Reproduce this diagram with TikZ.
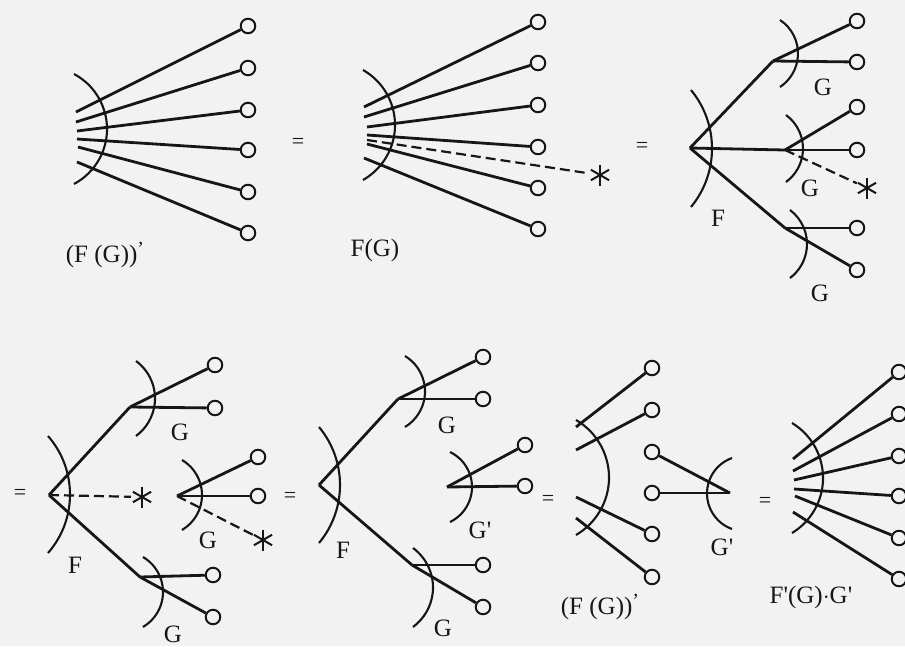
\documentclass[tikz,border=0pt]{standalone}
\usepackage{fontspec}
\setmainfont{Liberation Serif}
\definecolor{bg}{RGB}{242,242,242}
\definecolor{ink}{RGB}{22,22,22}
\newcommand\rarc[4]{%
  \pgfmathsetmacro\myrr{(#3*#3+#4*#4)/(2*#4)}%
  \pgfmathsetmacro\myth{asin(#3/\myrr)}%
  \draw[arcline] (#1,#2-#3) arc[start angle=-\myth, end angle=\myth, radius=\myrr];}
\newcommand\larc[4]{%
  \pgfmathsetmacro\myrr{(#3*#3+#4*#4)/(2*#4)}%
  \pgfmathsetmacro\myth{asin(#3/\myrr)}%
  \draw[arcline] (#1,#2-#3) arc[start angle=180+\myth, end angle=180-\myth, radius=\myrr];}
\newcommand\prm{\raisebox{0.28em}{\fontsize{20}{20}\selectfont ’}}
\newcommand\apo{\textquotesingle}
\begin{document}
\begin{tikzpicture}[x=1pt,y=-1pt,
  leaf/.style={circle,draw=ink,fill=bg,line width=2pt,minimum size=14.5pt,inner sep=0pt},
  branch/.style={draw=ink,line width=2.8pt},
  arcline/.style={draw=ink,line width=2.1pt},
  dashline/.style={draw=ink,line width=2.2pt,dash pattern=on 10pt off 5pt},
  lbl/.style={font=\fontsize{25}{28}\selectfont,text=ink,inner sep=0pt},
  eq/.style={font=\fontsize{22}{24}\selectfont,text=ink,inner sep=0pt},
  ast/.style={circle,minimum size=22pt,inner sep=0pt,
    path picture={\foreach \a in {90,30,-30}{\draw[ink,line width=2pt]
      ([shift={(\a:10.5pt)}]path picture bounding box.center) --
      ([shift={(\a+180:10.5pt)}]path picture bounding box.center);}}}
]
\fill[bg] (0,0) rectangle (905,646);
\useasboundingbox (0,0) rectangle (905,646);

% ---------- diagram 1 : (F(G))'
\foreach \i/\y in {1/26,2/68,3/110,4/150,5/192,6/233}
  \node[leaf] (p\i) at (248,\y) {};
\foreach \i/\x/\y in {1/76/112,2/76/122,3/77/131,4/77/139,5/78/147,6/77/162}
  \coordinate (a\i) at (\x,\y);
\foreach \i in {1,...,6} \draw[branch] (a\i) -- (p\i);
\rarc{74}{129}{55}{33}
\node[lbl] (l1) at (105,255) {(F (G))\prm};
\node[eq] (e1) at (298,143) {=};

% ---------- diagram 2 : F(G)
\foreach \i/\y in {1/22,2/63,3/105,4/147,5/188,6/229}
  \node[leaf] (q\i) at (538,\y) {};
\foreach \i/\x/\y in {1/364/107,2/364/117,3/367/127,4/367/135,5/367/144,6/364/158}
  \coordinate (b\i) at (\x,\y);
\foreach \i in {1,...,6} \draw[branch] (b\i) -- (q\i);
\coordinate (bd) at (367,140);
\node[ast] (s1) at (600,175) {};
\draw[dashline] (bd) -- (s1);
\rarc{363}{125}{55}{32}
\node[lbl] (l2) at (375,250) {F(G)};
\node[eq] (e2) at (642,147) {=};

% ---------- diagram 3
\coordinate (f3) at (690,148);
\coordinate (u3) at (773,61);
\coordinate (m3) at (785,150);
\coordinate (d3) at (785,228);
\node[leaf] (r1) at (857,21) {};
\node[leaf] (r2) at (857,62) {};
\node[leaf] (r3) at (857,107) {};
\node[leaf] (r4) at (857,150) {};
\node[ast] (s2) at (867,188) {};
\node[leaf] (r5) at (857,228) {};
\node[leaf] (r6) at (857,270) {};
\draw[branch] (f3) -- (u3);
\draw[branch] (f3) -- (m3);
\draw[branch] (f3) -- (d3);
\draw[branch] (u3) -- (r1);
\draw[branch] (u3) -- (r2);
\draw[branch] (m3) -- (r3);
\draw[branch] (m3) -- (r4);
\draw[dashline] (m3) -- (s2);
\draw[branch] (d3) -- (r5);
\draw[branch] (d3) -- (r6);
\rarc{691}{148.5}{58.5}{21}
\rarc{780}{53.5}{33.5}{18}
\rarc{786}{148.5}{33.5}{17}
\rarc{790}{244}{34}{17}
\node[lbl] (l3f) at (718,218) {F};
\node[lbl] (l3a) at (823,87) {G};
\node[lbl] (l3b) at (810,188) {G};
\node[lbl] (l3c) at (820,293) {G};

% ---------- diagram 4
\node[eq] (e3) at (20,494) {=};
\coordinate (f4) at (49,495);
\coordinate (u4) at (130,407);
\coordinate (m4) at (177,496);
\coordinate (d4) at (140,577);
\node[leaf] (t1) at (215,365) {};
\node[leaf] (t2) at (215,408) {};
\node[ast] (s3) at (142,497) {};
\node[leaf] (t3) at (258,457) {};
\node[leaf] (t4) at (258,496) {};
\node[ast] (s4) at (263,540) {};
\node[leaf] (t5) at (213,575) {};
\node[leaf] (t6) at (213,617) {};
\draw[branch] (f4) -- (u4);
\draw[branch] (f4) -- (d4);
\draw[dashline] (f4) -- (s3);
\draw[branch] (u4) -- (t1);
\draw[branch] (u4) -- (t2);
\draw[branch] (m4) -- (t3);
\draw[branch] (m4) -- (t4);
\draw[dashline] (m4) -- (s4);
\draw[branch] (d4) -- (t5);
\draw[branch] (d4) -- (t6);
\rarc{48}{494.5}{58.5}{22}
\rarc{136}{398.5}{37.5}{19}
\rarc{182}{495}{35}{20}
\rarc{143}{592}{35}{20}
\node[lbl] (l4f) at (75,565) {F};
\node[lbl] (l4a) at (180,432) {G};
\node[lbl] (l4b) at (208,540) {G};
\node[lbl] (l4c) at (173,634) {G};
\node[eq] (e4) at (290,497) {=};

% ---------- diagram 5
\coordinate (f5) at (319,485);
\coordinate (u5) at (398,399);
\coordinate (m5) at (447,487);
\coordinate (d5) at (412,565);
\node[leaf] (w1) at (483,357) {};
\node[leaf] (w2) at (483,399) {};
\node[leaf] (w3) at (525,445) {};
\node[leaf] (w4) at (525,486) {};
\node[leaf] (w5) at (483,565) {};
\node[leaf] (w6) at (483,607) {};
\draw[branch] (f5) -- (u5);
\draw[branch] (f5) -- (d5);
\draw[branch] (u5) -- (w1);
\draw[branch] (u5) -- (w2);
\draw[branch] (m5) -- (w3);
\draw[branch] (m5) -- (w4);
\draw[branch] (d5) -- (w5);
\draw[branch] (d5) -- (w6);
\rarc{319}{485}{58}{21}
\rarc{405}{391.5}{35.5}{20}
\rarc{450}{487}{35}{22}
\rarc{413}{587.5}{39.5}{20}
\node[lbl] (l5f) at (343,550) {F};
\node[lbl] (l5a) at (447,425) {G};
\node[lbl] (l5b) at (480,530) {G\apo};
\node[lbl] (l5c) at (443,628) {G};
\node[eq] (e5) at (548,500) {=};

% ---------- diagram 6
\foreach \i/\y in {1/368,2/410,3/452,4/493,5/534,6/577}
  \node[leaf] (x\i) at (652,\y) {};
\coordinate (g1) at (576,427);
\coordinate (g2) at (576,450);
\coordinate (g5) at (576,497);
\coordinate (g6) at (576,518);
\draw[branch] (g1) -- (x1);
\draw[branch] (g2) -- (x2);
\draw[branch] (g5) -- (x5);
\draw[branch] (g6) -- (x6);
\rarc{576}{477.5}{57.5}{33}
\coordinate (h6) at (730,493);
\draw[branch] (h6) -- (x3);
\draw[branch] (h6) -- (x4);
\larc{732}{493.5}{35.5}{25}
\node[lbl] (l6b) at (722,547) {G\apo};
\node[lbl] (l6) at (600,607) {(F (G))\prm};
\node[eq] (e6) at (765,502) {=};

% ---------- diagram 7
\foreach \i/\y in {1/372,2/414,3/456,4/496,5/538,6/579}
  \node[leaf] (y\i) at (899,\y) {};
\foreach \i/\x/\y in {1/793/459,2/793/471,3/794/480,4/794/489,5/795/496,6/793/512}
  \coordinate (k\i) at (\x,\y);
\foreach \i in {1,...,6} \draw[branch] (k\i) -- (y\i);
\rarc{792}{478}{55}{31}
\node[lbl] (l7) at (811,597) {F\apo(G)$\cdot$G\apo};
\end{tikzpicture}
\end{document}
